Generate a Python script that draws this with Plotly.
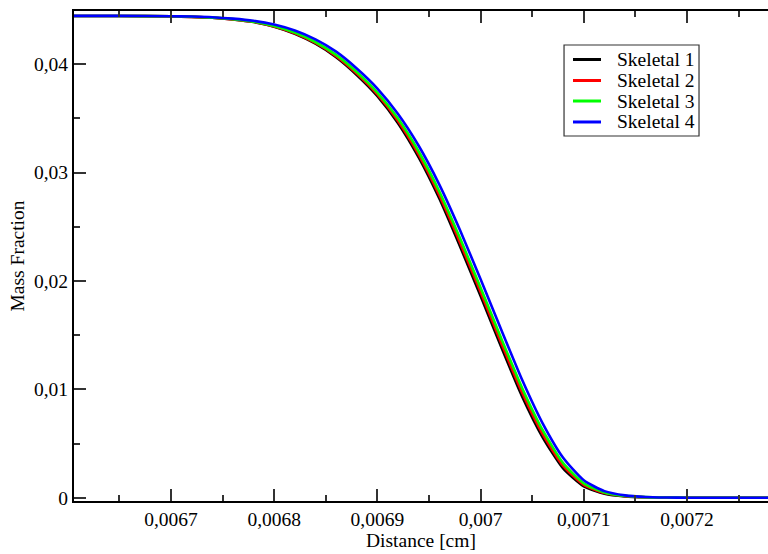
import plotly.graph_objects as go

# Distance [cm]
distance = [0.00660, 0.00665, 0.00670, 0.00672, 0.00674, 0.00676, 0.00678, 0.00680,
            0.00682, 0.00684, 0.00686, 0.00688, 0.00690, 0.00692, 0.00694, 0.00696,
            0.00698, 0.00700, 0.00702, 0.00704, 0.00706, 0.00708, 0.00710, 0.00712,
            0.00714, 0.00716, 0.00718, 0.00720, 0.00725, 0.00730]

skeletal_1 = [0.04444, 0.04444, 0.04440, 0.04436, 0.04428, 0.04412, 0.04388, 0.04345,
              0.04280, 0.04188, 0.04064, 0.03900, 0.03705, 0.03455, 0.03140, 0.02760,
              0.02320, 0.01860, 0.01390, 0.00940, 0.00560, 0.00270, 0.00105, 0.00038,
              0.00013, 0.00004, 0.00001, 0.00000, 0.00000, 0.00000]
skeletal_2 = [0.04444, 0.04444, 0.04440, 0.04436, 0.04429, 0.04413, 0.04390, 0.04348,
              0.04285, 0.04195, 0.04074, 0.03913, 0.03721, 0.03475, 0.03165, 0.02790,
              0.02355, 0.01897, 0.01428, 0.00976, 0.00590, 0.00293, 0.00118, 0.00043,
              0.00015, 0.00005, 0.00001, 0.00000, 0.00000, 0.00000]
skeletal_3 = [0.04444, 0.04444, 0.04441, 0.04437, 0.04429, 0.04415, 0.04392, 0.04352,
              0.04291, 0.04204, 0.04085, 0.03928, 0.03738, 0.03498, 0.03194, 0.02825,
              0.02395, 0.01938, 0.01470, 0.01017, 0.00625, 0.00319, 0.00133, 0.00049,
              0.00017, 0.00006, 0.00002, 0.00000, 0.00000, 0.00000]
skeletal_4 = [0.04445, 0.04445, 0.04442, 0.04439, 0.04433, 0.04420, 0.04400, 0.04365,
              0.04310, 0.04228, 0.04115, 0.03960, 0.03775, 0.03540, 0.03247, 0.02889,
              0.02470, 0.02016, 0.01550, 0.01093, 0.00689, 0.00369, 0.00161, 0.00061,
              0.00022, 0.00007, 0.00002, 0.00000, 0.00000, 0.00000]

series_names = ["Skeletal 1", "Skeletal 2", "Skeletal 3", "Skeletal 4"]
series_colors = ["#000000", "#ff0000", "#00ff00", "#0000ff"]

x_tickvals = [0.0067, 0.0068, 0.0069, 0.0070, 0.0071, 0.0072]
x_ticktext = ["0,0067", "0,0068", "0,0069", "0,007", "0,0071", "0,0072"]
y_tickvals = [0.0, 0.01, 0.02, 0.03, 0.04]
y_ticktext = ["0", "0,01", "0,02", "0,03", "0,04"]

FONT = "Liberation Serif"
FS = 19.5

fig = go.Figure()
for name, color, ys in zip(series_names, series_colors,
                           [skeletal_1, skeletal_2, skeletal_3, skeletal_4]):
    fig.add_trace(go.Scatter(x=distance, y=ys, mode="lines", name=name, showlegend=False,
                             line=dict(color=color, width=2.6, shape="spline", smoothing=0.6)))

# Legend box drawn in paper coordinates (layout decoration)
legend_box = dict(x0=0.7061, x1=0.9006, y0=0.7449, y1=0.9306)
legend_rows_y = [0.9010, 0.8582, 0.8163, 0.7735]
legend_line_x = (0.7190, 0.7594)
legend_text_x = 0.7795

fig.add_shape(type="rect", xref="paper", yref="paper", layer="above",
              fillcolor="white", line=dict(color="#333333", width=1.2), **legend_box)
for name, color, yy in zip(series_names, series_colors, legend_rows_y):
    fig.add_shape(type="line", xref="paper", yref="paper", layer="above",
                  x0=legend_line_x[0], x1=legend_line_x[1], y0=yy, y1=yy,
                  line=dict(color=color, width=3))
    fig.add_annotation(xref="paper", yref="paper", x=legend_text_x, y=yy,
                       xanchor="left", yanchor="middle", text=name, showarrow=False,
                       font=dict(family=FONT, size=FS, color="black"))

fig.update_layout(
    width=768, height=554,
    margin=dict(l=74, r=0, t=11, b=53),
    paper_bgcolor="white", plot_bgcolor="white",
    font=dict(family=FONT, size=FS, color="black"),
    showlegend=False,
)
fig.update_xaxes(
    range=[0.006606, 0.0072785],
    tickvals=x_tickvals, ticktext=x_ticktext,
    ticks="inside", ticklen=12, tickwidth=1.5, tickcolor="#333333",
    showline=True, linecolor="black", linewidth=2, mirror="ticks",
    showgrid=False, zeroline=False,
    minor=dict(dtick=0.00005, tick0=0.0, ticks="inside", ticklen=6, tickwidth=1.5, tickcolor="#333333"),
    title=dict(text="Distance [cm]", font=dict(family=FONT, size=FS), standoff=2),
    tickfont=dict(family=FONT, size=FS),
)
fig.update_yaxes(
    range=[-0.0003, 0.0449],
    tickvals=y_tickvals, ticktext=y_ticktext,
    ticks="inside", ticklen=12, tickwidth=1.5, tickcolor="#333333",
    showline=True, linecolor="black", linewidth=2, mirror=False,
    showgrid=False, zeroline=False,
    minor=dict(dtick=0.005, tick0=0.0, ticks="inside", ticklen=6, tickwidth=1.5, tickcolor="#333333"),
    title=dict(text="Mass Fraction", font=dict(family=FONT, size=FS), standoff=4),
    tickfont=dict(family=FONT, size=FS),
)

fig.write_html("out.html")
